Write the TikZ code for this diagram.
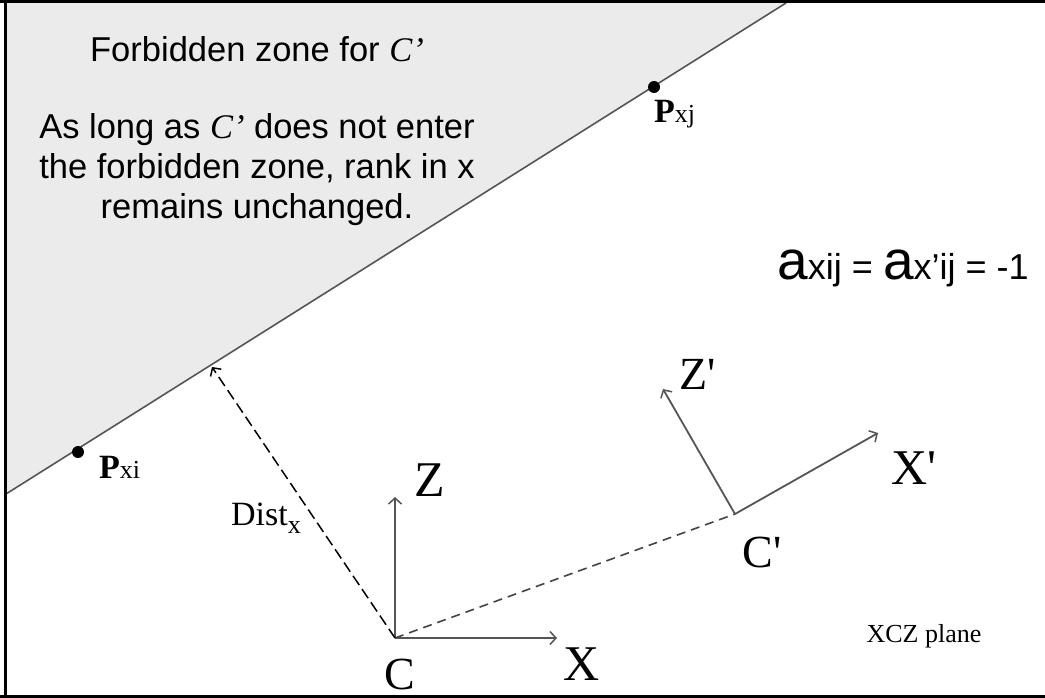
\documentclass[tikz,border=0pt]{standalone}
\usepackage{fontspec}
\setmainfont{Liberation Serif}
\newfontfamily\arialf{Liberation Sans}
\usetikzlibrary{arrows.meta}
\definecolor{zonegray}{HTML}{EBEBEB}
\definecolor{axgray}{HTML}{555555}
\definecolor{dashgray}{HTML}{444444}
\newcommand{\pr}{\textquotesingle}
\begin{document}
\begin{tikzpicture}[x=1pt,y=-1pt,
  frame/.style={draw=black,line width=3.5pt},
  edge/.style={draw=axgray,line width=1.6pt},
  axis/.style={draw=axgray,line width=1.8pt,-{Straight Barb[length=6pt,width=13pt,line width=1.5pt]}},
  cdash/.style={draw=dashgray,line width=1.6pt,dash pattern=on 9pt off 6pt},
  distline/.style={draw=black,line width=1.5pt,dash pattern=on 11pt off 5pt,-{Straight Barb[length=6pt,width=13pt,line width=1.5pt]}},
  dot/.style={circle,fill=black,inner sep=0pt,minimum size=12pt},
  axlab/.style={inner sep=0pt,font=\fontsize{50}{50}\selectfont},
  axlabs/.style={inner sep=0pt,font=\fontsize{46}{46}\selectfont},
  ptlab/.style={inner sep=0pt,anchor=west},
  sanstext/.style={inner sep=0pt,align=center,font=\arialf\fontsize{34.5}{40}\selectfont}]
\useasboundingbox (0,0) rectangle (1045,698);
\fill[white] (0,0) rectangle (1045,698);
% forbidden zone
\coordinate (L) at (6,494);
\coordinate (T) at (786,3);
\coordinate (TL) at (6,3);
\fill[zonegray] (TL) -- (T) -- (L) -- cycle;
\draw[edge] (L) -- (T);
% frame
\draw[frame] (5.5,0) -- (5.5,698);
\draw[frame] (0,1.75) -- (1045,1.75);
\draw[frame] (0,696.25) -- (1045,696.25);
% texts in the zone
\node[sanstext] (title) at (257,49) {Forbidden zone for {\rmfamily\itshape C’}};
\node[sanstext] (note) at (257,170) {As long as {\rmfamily\itshape C’} does not enter\\the forbidden zone, rank in x\\remains unchanged.};
% points
\node[dot] (pxi) at (78,452) {};
\node[dot] (pxj) at (654,87) {};
\node[ptlab] (pxilab) at (99,467) {\fontsize{34}{34}\selectfont\textbf{P}\fontsize{26}{26}\selectfont xi};
\node[ptlab] (pxjlab) at (654,114) {\fontsize{34}{34}\selectfont\textbf{P}\fontsize{26}{26}\selectfont xj};
% equation
\node[inner sep=0pt] (eq) at (903,268) {\arialf{\fontsize{55}{55}\selectfont a}{\fontsize{36}{36}\selectfont xij = }{\fontsize{55}{55}\selectfont a}{\fontsize{36}{36}\selectfont x’ij = -1}};
% frame C
\coordinate (C) at (395,638);
\coordinate (Ztip) at (395,497);
\coordinate (Xtip) at (557,638);
\draw[axis] (C) -- (Ztip);
\draw[axis] (C) -- (Xtip);
\node[axlab] (Zlab) at (430,480) {Z};
\node[axlab] (Xlab) at (582,664) {X};
\node[axlabs] (Clab) at (400,674) {C};
% frame C'
\coordinate (Cp) at (735,514);
\coordinate (Zptip) at (663,389);
\coordinate (Xptip) at (878,433);
\draw[axis] (Cp) -- (Zptip);
\draw[axis] (Cp) -- (Xptip);
\node[axlabs] (Zplab) at (698,374) {Z\pr};
\node[axlab] (Xplab) at (914,468) {X\pr};
\node[axlabs] (Cplab) at (762,552) {C\pr};
% translation and distance
\draw[cdash] (C) -- (Cp);
\coordinate (foot) at (212,367);
\draw[distline] (C) -- (foot);
\node[inner sep=0pt] (dist) at (266,518) {\fontsize{34}{34}\selectfont Dist\raisebox{-8pt}{\fontsize{26}{26}\selectfont x}};
\node[inner sep=0pt] (plane) at (924,636) {\fontsize{26}{26}\selectfont XCZ plane};
\end{tikzpicture}
\end{document}
